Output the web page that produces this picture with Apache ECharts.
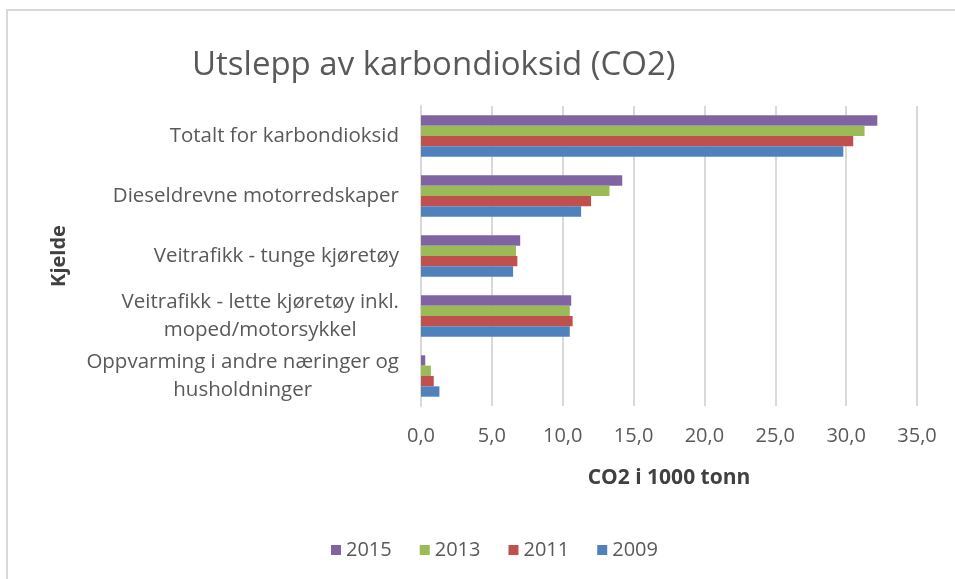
<!DOCTYPE html>
<html>
<head>
<meta charset="UTF-8">
<title>Utslepp av karbondioksid (CO2)</title>
<style>
  html, body { margin: 0; padding: 0; background: #fff; }
  #frame { position: absolute; left: 6px; top: 9px; width: 960px; height: 580px;
           border-top: 2px solid #d9d9d9; border-left: 2px solid #d9d9d9; }
  #main { position: absolute; left: 0; top: 0; width: 955px; height: 579px; }
</style>
</head>
<body>
<div id="frame"></div>
<div id="main"></div>
<script src="https://cdn.jsdelivr.net/npm/echarts@6/dist/echarts.min.js"></script>
<script>
// kategorier, ovenfra og ned
var kjelder = [
    'Totalt for karbondioksid',
    'Dieseldrevne motorredskaper',
    'Veitrafikk - tunge kjøretøy',
    'Veitrafikk - lette kjøretøy inkl.\nmoped/motorsykkel',
    'Oppvarming i andre næringer og\nhusholdninger'
];
var aar = ['2015', '2013', '2011', '2009'];
var v2015 = [32.2, 14.2, 7.0, 10.6, 0.3];
var v2013 = [31.3, 13.3, 6.7, 10.5, 0.7];
var v2011 = [30.5, 12.0, 6.8, 10.7, 0.9];
var v2009 = [29.8, 11.3, 6.5, 10.5, 1.3];
var xTicks = [0, 5, 10, 15, 20, 25, 30, 35];

var farger = { '2015': '#8064A2', '2013': '#9BBB59', '2011': '#C0504D', '2009': '#4F81BD' };
var verdier = { '2015': v2015, '2013': v2013, '2011': v2011, '2009': v2009 };

var font = 'Open Sans, sans-serif';

var myChart = echarts.init(document.getElementById('main'));

// 2015 overst i hver gruppe
var serier = aar.map(function (a) {
    return {
        name: a,
        type: 'bar',
        data: verdier[a],
        barGap: '0%',
        barCategoryGap: '31%',
        itemStyle: { color: farger[a] }
    };
});

var option = {
    animation: false,
    title: {
        text: 'Utslepp av karbondioksid (CO2)',
        left: 187, top: 44,
        textStyle: { fontFamily: font, fontWeight: 'normal', fontSize: 33, color: '#595959' }
    },
    legend: {
        data: aar,
        left: 326, top: 535,
        itemWidth: 10, itemHeight: 10, itemGap: 28,
        icon: 'rect',
        textStyle: { fontFamily: font, fontSize: 20, color: '#595959' }
    },
    grid: { left: 421, right: 38, top: 106, bottom: 173 },
    xAxis: {
        type: 'value',
        min: xTicks[0], max: xTicks[xTicks.length - 1], interval: 5,
        name: 'CO2 i 1000 tonn',
        nameLocation: 'middle',
        nameGap: 62,
        nameTextStyle: { fontFamily: font, fontSize: 21, fontWeight: 'bold', color: '#404040' },
        axisLine: { show: false },
        axisTick: { show: false },
        splitLine: { lineStyle: { color: '#d9d9d9', width: 2 } },
        axisLabel: {
            margin: 20,
            fontFamily: font, fontSize: 20, color: '#595959',
            formatter: function (v) { return v.toFixed(1).replace('.', ','); }
        }
    },
    yAxis: {
        type: 'category',
        data: kjelder,
        inverse: true,
        name: 'Kjelde',
        nameLocation: 'middle',
        nameRotate: 90,
        nameGap: 352,
        nameTextStyle: { fontFamily: font, fontSize: 20, fontWeight: 'bold', color: '#404040' },
        axisLine: { lineStyle: { color: '#d9d9d9', width: 2 } },
        axisTick: { show: false },
        axisLabel: {
            margin: 22,
            align: 'right',
            formatter: function (v) {
                return v.split('\n').map(function (l) { return '{c|' + l + '}'; }).join('\n');
            },
            rich: {
                c: { align: 'center', fontFamily: font, fontSize: 20.5, color: '#595959', lineHeight: 28 }
            }
        }
    },
    series: serier
};

myChart.setOption(option);
</script>
</body>
</html>
